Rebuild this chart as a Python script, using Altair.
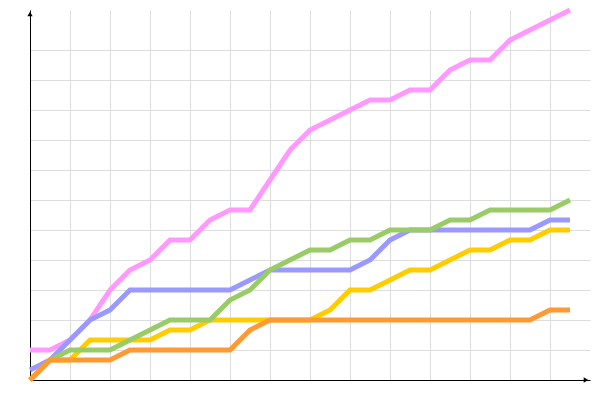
import altair as alt
import pandas as pd

steps = list(range(28))

pink = [3, 3, 4, 6, 9, 11, 12, 14, 14, 16, 17, 17, 20, 23, 25, 26, 27, 28, 28, 29, 29, 31, 32, 32, 34, 35, 36, 37]
blue = [1, 2, 4, 6, 7, 9, 9, 9, 9, 9, 9, 10, 11, 11, 11, 11, 11, 12, 14, 15, 15, 15, 15, 15, 15, 15, 16, 16]
yellow = [0, 2, 2, 4, 4, 4, 4, 5, 5, 6, 6, 6, 6, 6, 6, 7, 9, 9, 10, 11, 11, 12, 13, 13, 14, 14, 15, 15]
green = [0, 2, 3, 3, 3, 4, 5, 6, 6, 6, 8, 9, 11, 12, 13, 13, 14, 14, 15, 15, 15, 16, 16, 17, 17, 17, 17, 18]
orange = [0, 2, 2, 2, 2, 3, 3, 3, 3, 3, 3, 5, 6, 6, 6, 6, 6, 6, 6, 6, 6, 6, 6, 6, 6, 6, 7, 7]

series = [
    ("pink", pink, "#FF99FF"),
    ("blue", blue, "#9999FF"),
    ("yellow", yellow, "#FFCC00"),
    ("green", green, "#99CC66"),
    ("orange", orange, "#FF9933"),
]

x_grid = list(range(0, 27, 2))
y_grid = list(range(0, 34, 3))

x_scale = alt.Scale(domain=[0, 28], nice=False, zero=False)
y_scale = alt.Scale(domain=[0, 37], nice=False, zero=False)

x_axis = alt.Axis(values=x_grid, labels=False, ticks=False, title=None,
                  domainColor="black", domainWidth=1, grid=True,
                  gridColor="#DDDDDD", gridWidth=1, gridOpacity=1)
y_axis = alt.Axis(values=y_grid, labels=False, ticks=False, title=None,
                  domainColor="black", domainWidth=1, grid=True,
                  gridColor="#DDDDDD", gridWidth=1, gridOpacity=1)

layers = []
for name, vals, col in series:
    df = pd.DataFrame({"step": steps, "value": vals})
    layers.append(
        alt.Chart(df).mark_line(color=col, strokeWidth=5, strokeJoin="miter").encode(
            x=alt.X("step:Q", scale=x_scale, axis=x_axis),
            y=alt.Y("value:Q", scale=y_scale, axis=y_axis),
        )
    )

arrow_up = alt.Chart(pd.DataFrame({"a": [0]})).mark_point(
    shape="triangle-up", filled=True, color="black", size=28, opacity=1
).encode(x=alt.value(0), y=alt.value(4))
arrow_right = alt.Chart(pd.DataFrame({"a": [0]})).mark_point(
    shape="triangle-right", filled=True, color="black", size=28, opacity=1
).encode(x=alt.value(556), y=alt.value(370))

chart = alt.layer(*layers, arrow_up, arrow_right).properties(
    width=560, height=370,
    background="white",
    autosize=alt.AutoSizeParams(type="none"),
    padding={"left": 22, "top": 2, "right": 2, "bottom": 4},
).configure_view(stroke="transparent", strokeWidth=0)

chart.save("out.html", embed_options={"renderer": "svg", "actions": False})
